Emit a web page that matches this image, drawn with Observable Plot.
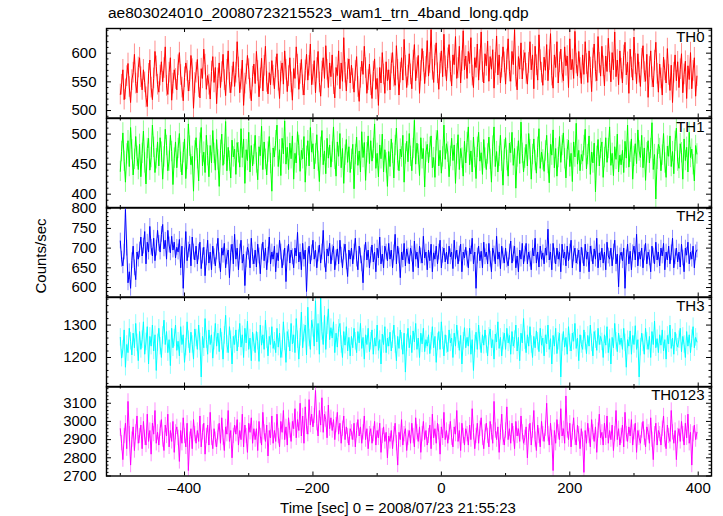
<!DOCTYPE html>
<html><head><meta charset="utf-8">
<script src="https://cdn.jsdelivr.net/npm/d3@7"></script>
<script src="https://cdn.jsdelivr.net/npm/@observablehq/plot@0.6"></script>
<style>
body{margin:0;background:#fff;font-family:"Liberation Sans",Arial,sans-serif;}
#wrap{position:relative;width:723px;height:516px;overflow:hidden;background:#fff}
.p{position:absolute;left:0}
svg{overflow:visible}
.lbl{position:absolute;font-size:15px;white-space:nowrap;color:#000}
</style></head><body><div id="wrap">
<div class="lbl" style="left:108px;top:4px;font-size:15.5px">ae803024010_20080723215523_wam1_trn_4band_long.qdp</div>
<div class="lbl" style="left:40px;top:256px;transform:translate(-50%,-50%) rotate(-90deg)">Counts/sec</div>
<div class="lbl" style="left:398px;top:507px;transform:translate(-50%,-50%)">Time [sec] 0 = 2008/07/23 21:55:23</div>
</div>
<script>
// time grid (sec): first bin and bin width
const tStart = -500, binWidth = 2;
const xDomain = [-521.5, 420.7];
const xMajorTicks = [-400, -200, 0, 200, 400];
const xMinorTicks = [-500, -300, -100, 100, 300];

const th0 = [
528,545,571,519,537,560,582,541,514,553,566,598,547,531,575,
592,558,536,571,549,523,507,564,588,540,519,556,603,577,545,
532,561,585,550,574,611,543,528,566,592,518,547,571,555,536,
579,601,562,540,517,558,583,569,534,551,596,572,504,548,566,
589,541,522,573,556,607,580,537,561,545,520,568,594,549,575,
512,556,583,540,567,598,553,526,571,604,548,531,559,585,542,
566,620,575,531,554,588,509,547,563,596,572,538,517,559,581,
547,603,569,524,556,591,534,578,612,550,529,566,545,587,561,
538,575,599,552,521,568,583,546,604,571,533,560,592,549,518,
573,556,611,580,537,564,589,544,527,570,598,553,578,616,545,
562,587,531,574,603,549,525,568,592,556,613,571,540,583,559,
597,546,522,575,561,604,538,583,551,627,566,534,572,590,548,
579,555,532,569,594,541,516,557,586,563,612,574,530,553,581,
544,521,568,590,537,556,509,575,548,601,563,530,585,552,571,
536,582,601,559,544,613,571,527,566,592,553,624,578,540,561,
599,563,538,587,615,552,574,596,530,569,608,585,547,576,622,
560,583,641,571,549,596,618,565,537,582,604,559,633,577,552,
591,615,568,543,597,580,629,556,574,612,548,586,639,571,595,
556,603,582,627,561,540,592,575,616,553,588,637,567,548,599,
578,621,551,594,572,606,539,583,630,562,597,548,575,611,584,
546,589,625,568,551,603,580,641,559,536,594,572,618,555,587,
601,564,546,583,620,571,597,538,612,579,553,632,588,566,544,
593,570,615,552,588,634,561,539,597,575,620,548,584,607,566,
552,611,578,595,540,625,571,589,556,638,582,560,603,574,547,
597,563,620,581,549,604,575,533,591,616,568,552,629,583,560,
612,577,543,595,568,626,584,550,601,571,637,559,588,545,604,
573,548,596,619,562,584,530,607,575,553,628,581,547,599,566,
542,590,613,567,551,598,523,576,604,558,541,587,619,564,532,
581,556,527,593,570,548,608,562,535,579,514,566,597,552,585,
540,572,599,531,563,586,521,578,554,601,538,569,592,525,560];
const th1 = [
438,471,502,455,420,467,489,446,511,474,432,458,496,463,441,
483,429,468,505,452,417,476,493,440,461,515,478,436,459,487,
447,494,470,425,462,508,481,439,455,498,471,416,460,487,444,
476,501,453,432,469,492,426,458,517,480,449,463,405,472,494,
459,422,485,511,447,470,436,498,464,429,481,452,506,468,440,
491,457,413,473,500,448,466,521,439,478,455,427,490,462,475,
433,486,469,445,509,461,492,418,474,456,503,437,481,447,466,
498,452,424,479,464,513,441,487,458,432,470,496,451,405,477,
462,489,515,446,474,431,493,467,522,450,478,441,485,459,497,
425,468,452,504,481,438,473,459,496,420,463,489,447,511,470,
484,442,467,499,455,421,478,506,449,472,434,493,460,482,445,
470,512,458,430,487,463,501,444,476,418,465,491,453,479,436,
458,483,409,466,495,448,472,437,504,461,486,423,469,497,451,
489,455,476,517,443,468,429,482,459,500,437,474,452,413,471,
446,492,468,427,481,510,456,439,475,462,498,420,467,488,454,
501,463,439,476,523,450,485,466,431,494,459,476,412,470,483,
452,478,497,444,461,428,489,506,447,473,435,462,515,458,484,
470,429,463,493,456,482,418,467,499,441,476,460,430,488,452,
486,512,449,472,437,495,461,426,478,503,455,469,433,491,460,
441,467,495,458,420,480,512,446,471,437,463,498,455,415,474,
494,456,430,485,469,503,448,476,410,462,489,451,520,468,437,
460,483,447,501,474,425,466,492,456,435,478,509,443,470,457,
438,472,498,451,419,483,465,507,444,476,430,461,496,453,481,
502,459,427,474,490,446,468,421,487,462,518,450,473,439,466,
455,481,508,442,466,497,433,470,452,485,404,463,491,447,476,
487,428,461,494,453,476,512,448,468,431,479,458,500,437,465,
449,473,436,488,460,515,445,470,492,425,463,484,451,507,472,
461,498,444,477,423,469,489,452,476,519,441,466,392,458,483,
476,439,465,501,452,428,480,463,497,446,471,434,488,510,455,
443,484,469,425,492,456,478,437,503,461,475,449,422,481,467];
const th2 = [
718,672,655,690,798,700,612,640,598,668,705,650,620,690,672,
695,728,680,705,742,660,715,690,755,702,680,725,668,700,745,
712,690,735,760,698,720,672,745,708,688,730,695,715,675,702,
690,722,650,705,598,680,742,668,695,710,655,728,690,670,705,
660,690,715,648,680,702,630,675,720,662,690,645,705,678,655,
690,725,668,640,700,682,712,650,678,695,625,688,710,660,735,
672,700,645,690,720,662,685,605,670,702,690,650,725,678,660,
695,652,710,680,635,690,715,668,700,645,682,728,660,690,672,
705,640,688,668,720,690,650,675,700,615,685,710,662,695,678,
650,700,680,740,665,690,645,712,672,695,590,680,705,660,688,
720,672,695,650,685,708,662,690,745,670,640,698,680,712,660,
688,705,645,675,698,660,720,682,650,690,710,665,628,695,672,
700,660,690,725,672,645,705,680,660,612,688,715,670,695,650,
682,708,665,690,640,700,675,728,660,685,650,705,690,668,712,
672,695,650,688,735,660,705,680,625,690,670,712,655,698,680,
660,700,685,640,718,672,690,650,705,680,662,730,675,690,645,
695,668,710,640,688,672,705,660,690,720,650,682,700,665,690,
660,705,678,690,648,720,672,695,660,685,710,640,690,675,702,
672,650,700,685,725,660,690,598,680,705,668,692,650,715,678,
690,660,712,672,640,700,685,660,730,672,690,648,705,680,662,
700,670,655,690,718,662,685,705,650,680,640,695,672,712,660,
685,712,660,690,672,645,700,680,725,662,690,652,705,672,688,
660,700,682,748,670,690,645,712,680,660,700,672,690,640,710,
675,690,655,705,668,690,720,650,685,700,662,678,695,640,702,
680,655,710,672,690,640,705,685,660,698,672,725,650,688,670,
700,662,690,645,715,680,672,700,655,690,720,660,685,602,680,
690,668,700,598,675,710,660,692,645,688,705,670,735,655,690,
672,700,650,688,712,660,690,675,640,705,680,660,715,670,690,
655,700,680,712,645,690,670,705,660,688,725,650,678,700,665,
690,652,710,675,640,700,682,715,660,690,672,705,650,688,695];
const th3 = [
1262,1198,1225,1285,1170,1240,1215,1290,1250,1208,1275,1230,1305,1245,1190,
1280,1225,1255,1310,1210,1248,1295,1180,1265,1235,1300,1220,1270,1160,1245,
1290,1235,1200,1268,1315,1240,1280,1215,1255,1175,1290,1230,1260,1300,1222,
1250,1205,1295,1240,1270,1185,1232,1310,1255,1215,1278,1240,1195,1288,1260,
1225,1300,1248,1140,1265,1230,1320,1255,1210,1285,1240,1270,1198,1250,1305,
1235,1275,1218,1290,1250,1195,1268,1330,1240,1215,1295,1255,1180,1265,1240,
1285,1220,1258,1305,1232,1270,1200,1290,1245,1312,1225,1260,1190,1278,1245,
1215,1280,1250,1188,1300,1238,1270,1225,1315,1255,1205,1265,1240,1295,1228,
1250,1215,1290,1232,1275,1200,1225,1310,1248,1185,1280,1258,1220,1305,1242,
1270,1215,1320,1255,1195,1262,1340,1230,1275,1300,1208,1355,1260,1225,1315,
1290,1235,1375,1248,1305,1210,1385,1280,1240,1330,1225,1298,1350,1255,1292,
1260,1310,1215,1275,1232,1290,1305,1240,1200,1280,1238,1295,1220,1262,1205,
1265,1230,1290,1250,1215,1280,1245,1305,1228,1262,1195,1270,1240,1290,1218,
1250,1285,1210,1260,1235,1300,1222,1255,1180,1272,1240,1295,1215,1260,1235,
1278,1220,1255,1300,1240,1190,1265,1228,1285,1250,1210,1275,1155,1245,1290,
1230,1268,1215,1282,1248,1305,1225,1260,1200,1275,1242,1290,1218,1255,1235,
1270,1212,1250,1295,1230,1265,1185,1248,1280,1225,1310,1252,1205,1270,1240,
1218,1285,1245,1260,1200,1275,1235,1300,1255,1222,1268,1180,1250,1292,1230,
1262,1235,1290,1210,1255,1160,1242,1278,1225,1300,1250,1215,1270,1238,1285,
1240,1205,1265,1288,1230,1255,1195,1272,1248,1310,1228,1262,1205,1250,1275,
1225,1290,1245,1268,1210,1280,1235,1255,1300,1220,1262,1190,1275,1245,1320,
1252,1215,1270,1235,1295,1240,1200,1265,1230,1282,1250,1218,1290,1238,1260,
1205,1270,1242,1300,1225,1258,1180,1268,1235,1290,1212,1250,1275,1140,1245,
1280,1232,1262,1210,1295,1245,1220,1275,1250,1305,1228,1260,1190,1270,1240,
1225,1285,1250,1212,1268,1235,1300,1245,1205,1280,1255,1222,1290,1240,1265,
1248,1200,1270,1238,1295,1215,1258,1180,1262,1230,1305,1250,1218,1275,1240,
1260,1225,1290,1245,1170,1255,1235,1282,1210,1268,1240,1298,1225,1255,1140,
1232,1275,1245,1210,1290,1250,1225,1265,1200,1280,1240,1312,1230,1258,1215,
1270,1238,1285,1220,1255,1195,1268,1242,1300,1228,1260,1210,1278,1245,1232,
1255,1290,1218,1265,1240,1200,1280,1235,1270,1215,1258,1295,1230,1262,1248];
const th0123 = [
2960,2880,2790,2920,2990,2850,3110,2930,2760,2900,2970,2840,2940,3030,2880,
2920,2980,2850,3000,2910,2870,3040,2890,2950,2820,2990,2930,3060,2880,2940,
2870,2960,3010,2900,2840,2980,2920,3040,2860,2950,2890,3000,2830,2940,2970,
2910,2780,2950,2880,3020,2920,2860,2990,2730,2900,2960,2850,3010,2930,2880,
2950,2890,3030,2860,2940,2990,2820,2920,2980,2870,3050,2910,2850,2960,2900,
2860,2940,2990,2880,3020,2910,2840,2970,2930,3060,2890,2950,2800,2920,2980,
2930,3010,2870,2950,2900,3040,2860,2980,2920,2830,2990,2940,3020,2880,2960,
2900,2960,2840,3000,2920,2870,3050,2940,2890,2980,2810,2950,2910,3030,2880,
2950,2890,3040,2920,2860,3000,2940,3060,2900,2970,2870,3020,2950,2890,3000,
2960,3070,2910,3010,2950,3100,2920,3030,2880,3080,2970,2930,3120,2980,3040,
2970,3030,3170,2990,2920,3060,2980,3130,2940,3040,3010,2910,3090,2960,3020,
2950,3010,2900,2980,3050,2930,2990,2880,2960,3030,2900,2970,2920,2870,2960,
2940,2900,2990,2860,2950,3010,2920,2970,2880,2940,3030,2900,2960,2850,2930,
2960,2880,2930,3000,2870,2950,2910,2990,2830,2920,2970,2890,2940,2800,2920,
2890,2950,2850,2930,2990,2880,2760,2940,2900,3010,2870,2930,2960,2840,2910,
2950,2880,2990,2920,2860,3020,2940,2890,2970,2830,2930,3000,2900,2950,2870,
2920,2980,2850,3040,2910,2960,2880,2990,2940,2820,2970,2910,3050,2900,2950,
2880,2940,3000,2910,2860,2970,2930,3060,2890,2950,2840,2990,2920,2870,2960,
2930,2870,2980,2900,3070,2940,2850,2920,2990,2880,2960,3020,2910,2850,2940,
2990,2920,2860,3000,2940,2880,3110,2950,2900,2970,2830,2940,3040,2910,2870,
2950,3080,2900,2960,2880,2990,2930,2850,3000,2920,2960,2890,3030,2940,2880,
2910,2970,2800,2940,2990,2870,2950,3060,2900,2840,2980,2920,2860,3000,2930,
2890,2960,3100,2930,2870,2990,2910,2730,2950,2880,3010,2940,2900,3070,2920,
2960,2880,3140,2950,2900,2990,2860,2940,3020,2910,2870,2980,2930,2850,2960,
2900,2720,2950,2880,2990,2920,2860,3010,2940,2890,2970,2830,2950,3040,2910,
2940,2870,2990,2910,3030,2880,2950,2900,2980,2840,2930,3060,2900,2960,2870,
2920,2980,2860,3050,2930,2890,2970,2920,3010,2870,2940,2990,2830,2950,2910,
2880,2950,3000,2910,2860,2970,2940,2880,3020,2900,2790,2930,2990,2870,2950,
2930,2870,2960,3030,2900,2850,2980,2920,2890,3060,2940,2880,2950,2790,2920,
2960,2890,3000,2930,2870,2990,2910,3040,2880,2940,2760,2930,2980,2900,2940];

const names = ["TH0", "TH1", "TH2", "TH3", "TH0123"];
const series = [th0, th1, th2, th3, th0123];
const colors = ["#ff0000", "#00ff00", "#0000ff", "#00ffff", "#ff00ff"];
const errs = [18, 17, 20, 27, 42];
const yDomains = [[487, 643], [377, 526], [576, 803], [1109, 1385], [2700, 3192]];
const yMajor = [[500, 550, 600], [400, 450, 500], [600, 650, 700, 750, 800], [1200, 1300], [2700, 2800, 2900, 3000, 3100]];
const yMinorStep = [10, 10, 10, 20, 20];

const W = 723, ML = 106, MR = 12;
const panelTop = 28, panelH = 89.5;
const plotW = W - ML - MR;
const wrap = document.getElementById("wrap");

series.forEach((vals, i) => {
  const data = vals.map((v, j) => ({t: tStart + j * binWidth, v}));
  const [y0, y1] = yDomains[i];
  const minor = d3.range(Math.ceil(y0 / yMinorStep[i]) * yMinorStep[i], y1, yMinorStep[i]).filter(v => !yMajor[i].includes(v));
  const last = i === series.length - 1;
  const mt = 10, mb = last ? 32 : 10;
  const err = errs[i];
  const plot = Plot.plot({
    width: W, height: panelH + mt + mb,
    marginLeft: ML, marginRight: MR, marginTop: mt, marginBottom: mb,
    style: {fontSize: "15px", fontFamily: "'Liberation Sans', Arial, sans-serif", color: "#000", background: "transparent", overflow: "visible"},
    x: {domain: xDomain, ticks: xMajorTicks, tickSize: 0, tickPadding: 6, tickFormat: d => (d < 0 ? "\u2013" : "") + Math.abs(d), axis: last ? "bottom" : null, label: null},
    y: {domain: yDomains[i], ticks: yMajor[i], tickSize: 0, tickPadding: 10, tickFormat: "d", label: null},
    marks: [
      Plot.ruleX(data, {x: "t", y1: d => d.v - err, y2: d => d.v + err, stroke: colors[i], strokeOpacity: 0.45, strokeWidth: 1, clip: true}),
      Plot.line(data, {x: "t", y: "v", stroke: colors[i], strokeWidth: 1, clip: true}),
      Plot.tickY(yMajor[i], {y: d => d, insetRight: plotW - 5, stroke: "black"}),
      Plot.tickY(yMajor[i], {y: d => d, insetLeft: plotW - 5, stroke: "black"}),
      Plot.tickY(minor, {y: d => d, insetRight: plotW - 2.5, stroke: "black"}),
      Plot.tickY(minor, {y: d => d, insetLeft: plotW - 2.5, stroke: "black"}),
      Plot.tickX(xMajorTicks, {x: d => d, insetBottom: panelH - 4, stroke: "black"}),
      Plot.tickX(xMajorTicks, {x: d => d, insetTop: panelH - 4, stroke: "black"}),
      Plot.tickX(xMinorTicks, {x: d => d, insetBottom: panelH - 2.5, stroke: "black"}),
      Plot.tickX(xMinorTicks, {x: d => d, insetTop: panelH - 2.5, stroke: "black"}),
      Plot.frame({stroke: "black", strokeWidth: 1.4}),
      Plot.text([names[i]], {text: d => d, frameAnchor: "top-right", dx: -7, dy: 3, lineAnchor: "top", textAnchor: "end", fontSize: 15, fill: "black"})
    ]
  });
  plot.classList.add("p");
  plot.style.top = (panelTop + i * panelH - mt) + "px";
  plot.style.position = "absolute";
  wrap.appendChild(plot);
});
</script>
</body></html>
